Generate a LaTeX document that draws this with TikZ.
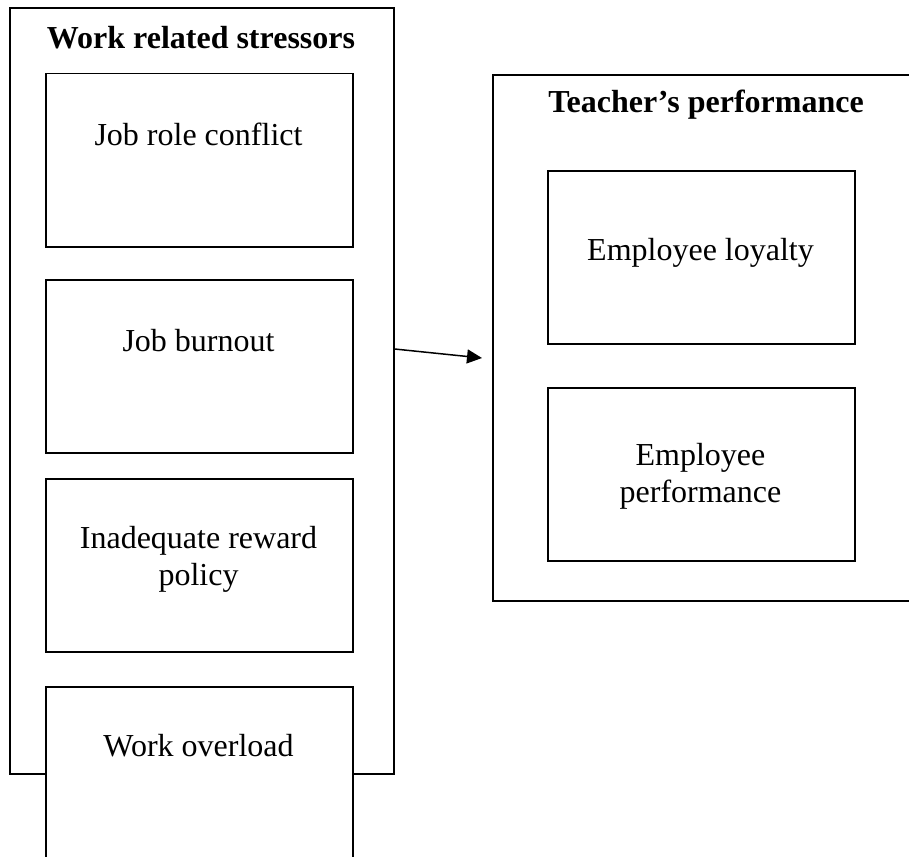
\documentclass[tikz,border=0pt]{standalone}
\usepackage{fontspec}
\setmainfont{Liberation Serif}
\usetikzlibrary{arrows.meta}

\begin{document}
\begin{tikzpicture}[
    x=1pt, y=-1pt,
    font=\fontsize{32}{37}\selectfont,
    frame/.style={draw, line width=1.6pt, anchor=north west, inner sep=0pt},
    factor/.style={draw, line width=1.5pt, fill=white, anchor=north west,
                   minimum width=307pt, minimum height=173pt, inner sep=0pt},
    heading/.style={anchor=base, font=\fontsize{32}{37}\selectfont\bfseries},
    caption/.style={anchor=base, align=center},
    link/.style={line width=1.5pt, -{Triangle[length=15pt, width=14pt]}}
]
    \useasboundingbox (0,0) rectangle (909,856);

    % stressors
    \node[frame, minimum width=384pt, minimum height=766pt] (ws) at (9,7) {};
    \node[heading] (wstitle) at (201,49) {Work related stressors};

    \node[factor] (conflict) at (45,73) {};
    \node[caption] (conflicttxt) at (198.5,145) {Job role conflict};

    \node[factor] (burnout) at (45,279) {};
    \node[caption] (burnouttxt) at (198.5,351) {Job burnout};

    \node[factor] (reward) at (45,478) {};
    \node[caption] (rewardtxt) at (198.5,585) {Inadequate reward\\policy};

    \node[factor] (overload) at (45,686) {};
    \node[caption] (overloadtxt) at (198.5,756) {Work overload};

    % performance
    \node[frame, minimum width=428pt, minimum height=526pt] (tp) at (492,74) {};
    \node[heading] (tptitle) at (706,113) {Teacher’s performance};

    \node[factor] (loyalty) at (547,170) {};
    \node[caption] (loyaltytxt) at (700.5,260) {Employee loyalty};

    \node[factor] (perform) at (547,387) {};
    \node[caption] (performtxt) at (700.5,502) {Employee\\performance};

    \coordinate (tail) at (ws.east |- 0,349);
    \coordinate (head) at ([xshift=-10pt]tp.west |- 0,358);
    \draw[link] (tail) -- (head);

\end{tikzpicture}
\end{document}
